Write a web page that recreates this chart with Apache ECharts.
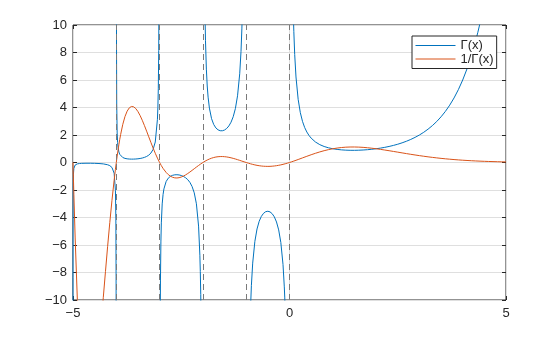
<!DOCTYPE html>
<html>
<head>
<meta charset="utf-8">
<script src="https://cdn.jsdelivr.net/npm/echarts@6/dist/echarts.min.js"></script>
<style>html,body{margin:0;padding:0;background:#fff}#c{width:560px;height:337px}</style>
</head>
<body>
<div id="c"></div>
<script>
// Γ(x): x samples and values (null = break at a pole)
var gammaX = [
  -4.9995,-4.999,-4.998,-4.995,-4.99,-4.98,-4.95,-4.9,-4.85,-4.8,-4.7,-4.6,-4.5,-4.4,-4.3,-4.2,-4.15,-4.1,-4.05,-4.02,-4.01,-4.005,-4.003,
  -4.0,
  -3.997,-3.995,-3.99,-3.98,-3.97,-3.96,-3.94,-3.92,-3.9,-3.85,-3.8,-3.75,-3.7,-3.65,-3.6,-3.55,-3.5,-3.45,-3.4,-3.35,-3.3,-3.25,-3.2,-3.15,-3.1,-3.05,-3.04,-3.03,-3.02,-3.01,
  -3.0,
  -2.985,-2.98,-2.97,-2.96,-2.94,-2.92,-2.9,-2.85,-2.8,-2.75,-2.7,-2.65,-2.6,-2.55,-2.5,-2.45,-2.4,-2.35,-2.3,-2.25,-2.2,-2.15,-2.1,-2.07,-2.06,-2.05,-2.04,
  -2.0,
  -1.95,-1.94,-1.92,-1.9,-1.88,-1.85,-1.8,-1.75,-1.7,-1.65,-1.6,-1.55,-1.5,-1.45,-1.4,-1.35,-1.3,-1.25,-1.2,-1.15,-1.12,-1.1,-1.09,
  -1.0,
  -0.9,-0.88,-0.85,-0.8,-0.75,-0.7,-0.65,-0.6,-0.55,-0.5,-0.45,-0.4,-0.35,-0.3,-0.25,-0.2,-0.15,-0.12,-0.11,-0.1,
  0.0,
  0.09,0.1,0.12,0.15,0.2,0.25,0.3,0.35,0.4,0.45,0.5,0.6,0.7,0.8,0.9,1.0,1.1,1.2,1.3,1.4,1.5,1.6,1.7,1.8,1.9,2.0,
  2.1,2.2,2.3,2.4,2.5,2.6,2.7,2.8,2.9,3.0,3.1,3.2,3.3,3.4,3.5,3.6,3.7,3.8,3.9,4.0,4.1,4.2,4.3,4.35,4.4,4.45
];
var gammaY = [
  -16.68,-8.345,-4.178,-1.681,-0.8478,-0.4314,-0.1822,-0.1004,-0.0743,-0.0624,-0.0535,-0.0537,-0.0600,-0.0741,-0.1020,-0.1641,-0.2295,-0.3640,-0.7759,-2.0227,-4.105,-8.27,-13.8,
  null,
  13.95,8.396,4.2305,2.1484,1.4551,1.1091,0.7644,0.5934,0.4919,0.3605,0.2996,0.2679,0.2516,0.2454,0.2469,0.2550,0.2701,0.2930,0.3259,0.3723,0.4385,0.5362,0.6890,0.9523,1.4922,3.1424,3.972,5.357,8.131,16.46,
  null,
  -11.32,-8.550,-5.777,-4.392,-3.0116,-2.326,-1.9184,-1.388,-1.1386,-1.0045,-0.9311,-0.8959,-0.8887,-0.9053,-0.9453,-1.0109,-1.1080,-1.2471,-1.4472,-1.7428,-2.205,-3.000,-4.626,-6.744,-7.926,-9.584,-12.07,
  null,
  10.51,8.854,6.792,5.5634,4.7528,3.9557,3.1881,2.7624,2.5139,2.374,2.3106,2.3086,2.3633,2.4768,2.6593,2.9308,3.3285,3.9213,4.8508,6.449,8.077,9.7145,10.81,
  null,
  -10.571,-8.935,-7.318,-5.7385,-4.8341,-4.2737,-3.9171,-3.697,-3.5784,-3.5449,-3.5913,-3.723,-3.9566,-4.327,-4.9017,-5.821,-7.4167,-9.046,-9.789,-10.686,
  null,
  10.62,9.5135,7.863,6.2203,4.5908,3.6256,2.9916,2.5461,2.2182,1.9681,1.7725,1.4892,1.2981,1.1642,1.0686,1.0,0.9514,0.9182,0.8975,0.8873,0.8862,0.8935,0.9086,0.9314,0.9618,1.0,
  1.0465,1.1018,1.1667,1.2422,1.3293,1.4296,1.5447,1.6765,1.8274,2.0,2.1976,2.4240,2.6834,2.9812,3.3234,3.7170,4.1707,4.6942,5.2995,6.0,6.8126,7.7567,8.8553,9.4712,10.136,10.855
];
// 1/Γ(x)
var recipX = [
  -5.0,-4.995,-4.99,-4.98,-4.95,-4.9,-4.88,-4.85,-4.7,-4.5,-4.35,-4.3,-4.25,-4.2,-4.15,-4.1,-4.05,-4.02,-4.0,
  -3.99,-3.98,-3.96,-3.94,-3.92,-3.9,-3.85,-3.8,-3.75,-3.7,-3.65,-3.6,-3.55,-3.5,-3.45,-3.4,-3.35,-3.3,-3.25,-3.2,-3.15,-3.1,-3.05,-3.0,
  -2.96,-2.92,-2.9,-2.85,-2.8,-2.75,-2.7,-2.65,-2.6,-2.55,-2.5,-2.45,-2.4,-2.35,-2.3,-2.25,-2.2,-2.15,-2.1,-2.05,-2.0,
  -1.95,-1.9,-1.85,-1.8,-1.75,-1.7,-1.65,-1.6,-1.55,-1.5,-1.45,-1.4,-1.35,-1.3,-1.25,-1.2,-1.15,-1.1,-1.05,-1.0,
  -0.95,-0.9,-0.85,-0.8,-0.75,-0.7,-0.65,-0.6,-0.55,-0.5,-0.45,-0.4,-0.35,-0.3,-0.25,-0.2,-0.15,-0.1,-0.05,0.0,
  0.05,0.1,0.2,0.3,0.4,0.5,0.6,0.7,0.8,0.9,1.0,1.1,1.2,1.3,1.4,1.5,1.6,1.7,1.8,1.9,2.0,
  2.1,2.2,2.3,2.4,2.5,2.6,2.7,2.8,2.9,3.0,3.1,3.2,3.3,3.4,3.5,3.6,3.7,3.8,3.9,4.0,4.1,4.2,4.3,4.4,4.5,4.6,4.7,4.8,4.9,5.0
];
var recipY = [
  0,-0.595,-1.1795,-2.318,-5.488,-9.961,-11.47,-13.45,-18.69,-16.66,-11.685,-9.805,-7.926,-6.095,-4.358,-2.7473,-1.2888,-0.4944,0,
  0.2364,0.4655,0.9016,1.3082,1.6853,2.0329,2.7739,3.3378,3.7327,3.9746,4.0750,4.0502,3.9216,3.7024,3.4130,3.0684,2.6861,2.2805,1.8649,1.4514,1.0501,0.6701,0.3182,0,
  -0.2277,-0.4299,-0.5213,-0.7205,-0.8783,-0.9955,-1.0740,-1.1162,-1.1252,-1.1046,-1.0578,-0.9892,-0.9025,-0.8019,-0.6910,-0.5738,-0.4535,-0.3333,-0.2162,-0.1043,0,
  0.0951,0.1797,0.2528,0.3137,0.3620,0.3978,0.4212,0.4328,0.4332,0.4231,0.4037,0.3760,0.3412,0.3004,0.2550,0.2062,0.1551,0.1029,0.0509,0,
  -0.0488,-0.0946,-0.1367,-0.1743,-0.2069,-0.2340,-0.2553,-0.2705,-0.2795,-0.2821,-0.2785,-0.2686,-0.2527,-0.2311,-0.2040,-0.1718,-0.1348,-0.0936,-0.0485,0,
  0.0514,0.1051,0.2178,0.3343,0.4508,0.5642,0.6715,0.7704,0.8590,0.9358,1.0,1.0511,1.0891,1.1142,1.1271,1.1284,1.1192,1.1005,1.0737,1.0397,1.0,
  0.9556,0.9076,0.8571,0.8050,0.7523,0.6995,0.6474,0.5965,0.5472,0.5,0.4550,0.4125,0.3727,0.3354,0.3009,0.2690,0.2398,0.2130,0.1887,0.1667,0.1468,0.1289,0.1129,0.0987,0.0860,0.0747,0.0648,0.0561,0.0484,0.0417
];
var poles = [-4, -3, -2, -1, 0];
var xTicks = [-5, 0, 5];
var yTicks = [-10, -8, -6, -4, -2, 0, 2, 4, 6, 8, 10];
var seriesNames = ['\u0393(x)', '1/\u0393(x)'];
var seriesColors = ['#0072BD', '#D95319'];

function pairs(xs, ys) {
  return xs.map(function (x, i) { return [x, ys[i] == null ? '-' : ys[i]]; });
}
function fmt(v) { return v < 0 ? '\u2212' + Math.abs(v) : String(v); }
var FONT = 'Liberation Sans, Arial, Helvetica, sans-serif';
var TXT = '#262626';
var chart = echarts.init(document.getElementById('c'), null, {renderer: 'canvas'});
var axisCommon = {
  type: 'value',
  axisLine: {show: false, onZero: false},
  axisTick: {show: true, inside: true, length: 4, lineStyle: {color: TXT, width: 1}},
  splitLine: {show: false}
};
chart.setOption({
  animation: false,
  backgroundColor: '#fff',
  grid: {left: 73, top: 25, width: 433, height: 275, show: true, borderColor: TXT, borderWidth: 1, backgroundColor: 'transparent'},
  legend: {
    orient: 'vertical', left: 412, top: 36,
    data: seriesNames.map(function (n, i) {
      return {name: n, lineStyle: {color: seriesColors[i], width: 1, opacity: 1}};
    }),
    backgroundColor: '#fff', borderColor: TXT, borderWidth: 1, borderRadius: 0,
    padding: [3, 3, 3, 3], itemWidth: 40, itemHeight: 13, itemGap: 0.5,
    itemStyle: {opacity: 0, borderWidth: 0},
    textStyle: {fontFamily: FONT, fontSize: 13, color: TXT, lineHeight: 13},
    selectedMode: false
  },
  xAxis: [
    Object.assign({}, axisCommon, {
      min: xTicks[0], max: xTicks[xTicks.length - 1], interval: 5, position: 'bottom',
      axisLabel: {show: true, margin: 7, fontFamily: FONT, fontSize: 13, color: TXT, formatter: fmt},
      splitLine: {show: true, lineStyle: {color: '#dfdfdf', width: 1}}
    }),
    Object.assign({}, axisCommon, {
      min: xTicks[0], max: xTicks[xTicks.length - 1], interval: 5, position: 'top',
      axisLabel: {show: false}
    })
  ],
  yAxis: [
    Object.assign({}, axisCommon, {
      min: yTicks[0], max: yTicks[yTicks.length - 1], interval: 2, position: 'left',
      axisLabel: {show: true, margin: 6, fontFamily: FONT, fontSize: 13, color: TXT, formatter: fmt},
      splitLine: {show: true, lineStyle: {color: '#dfdfdf', width: 1}}
    }),
    Object.assign({}, axisCommon, {
      min: yTicks[0], max: yTicks[yTicks.length - 1], interval: 2, position: 'right',
      axisLabel: {show: false}
    })
  ],
  series: [
    {
      name: seriesNames[0], type: 'line', xAxisIndex: 0, yAxisIndex: 0,
      data: pairs(gammaX, gammaY), showSymbol: false, symbol: 'none', clip: true,
      connectNulls: false,
      lineStyle: {color: seriesColors[0], width: 1}, itemStyle: {color: seriesColors[0]},
      z: 3
    },
    {
      name: seriesNames[1], type: 'line', xAxisIndex: 0, yAxisIndex: 0,
      data: pairs(recipX, recipY), showSymbol: false, symbol: 'none', clip: true,
      lineStyle: {color: seriesColors[1], width: 1}, itemStyle: {color: seriesColors[1]},
      z: 3,
      markLine: {
        silent: true, symbol: ['none', 'none'], label: {show: false},
        lineStyle: {color: '#7a7a7a', type: [6, 4], width: 1},
        emphasis: {disabled: true},
        data: poles.map(function (p) { return {xAxis: p}; })
      }
    }
  ]
});
</script>
</body>
</html>
